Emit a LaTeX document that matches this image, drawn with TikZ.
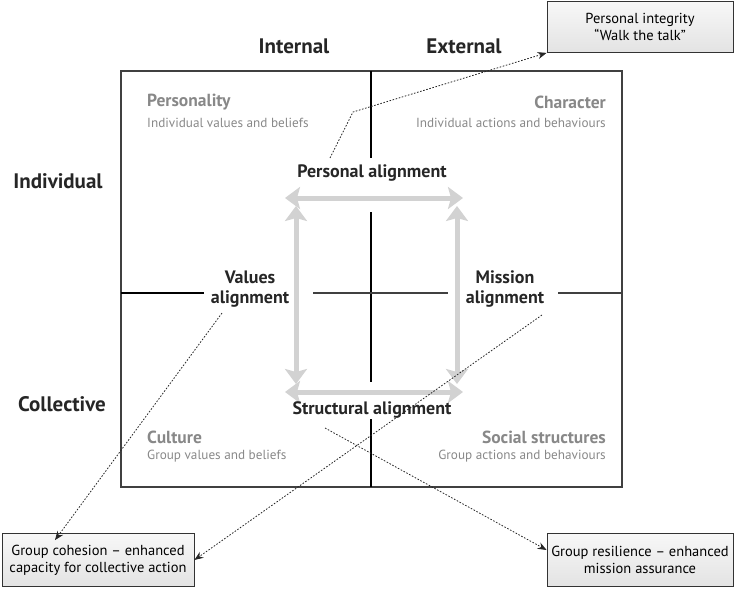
\documentclass[tikz,border=0pt]{standalone}
\usepackage{fontspec}
\setmainfont{PT Sans}
\usetikzlibrary{arrows.meta}
\definecolor{sub}{HTML}{888888}
\definecolor{garrow}{HTML}{D2D2D2}
\begin{document}
\begin{tikzpicture}[x=1pt,y=-1pt,
  head/.style={font=\bfseries\fontsize{21}{24}\selectfont, text=black!85},
  alab/.style={font=\bfseries\fontsize{18}{20}\selectfont, text=black!85, align=center, inner sep=1pt},
  qtitle/.style={font=\bfseries\fontsize{17.5}{19}\selectfont, text=sub, inner sep=0pt},
  qsub/.style={font=\fontsize{13.2}{15}\selectfont, text=sub, inner sep=0pt},
  outbox/.style={draw=black!80, line width=0.8pt, top color=gray!6, bottom color=gray!22, shading angle=0,
     align=center, inner sep=2pt, font=\fontsize{14.5}{17}\selectfont},
  grayarr/.style={draw=garrow, line width=5pt, {Stealth[length=15pt,width=22pt,inset=3pt]}-{Stealth[length=15pt,width=22pt,inset=3pt]}},
  conn/.style={draw=black!85, line width=0.8pt, dash pattern=on 1.6pt off 1.6pt, -{Stealth[length=9pt,width=7pt]}},
  divline/.style={draw=black, line width=1.1pt}
]
\useasboundingbox (0,0) rectangle (736,589);
% main square
\draw[draw=black!75, line width=1.3pt] (121,71) rectangle (622,487);
% centre lines
\coordinate (vt) at (371,71); \coordinate (vtb) at (371,158);
\coordinate (vm1) at (371,212); \coordinate (vm2) at (371,382);
\coordinate (vb1) at (371,419); \coordinate (vb) at (371,487);
\coordinate (hl) at (121,293); \coordinate (hlb) at (204,293);
\coordinate (hm1) at (313,293); \coordinate (hm2) at (448,293);
\coordinate (hr1) at (558,293); \coordinate (hr) at (622,293);
\draw[divline] (vt) -- (vtb);
\draw[divline] (vm1) -- (vm2);
\draw[divline] (vb1) -- (vb);
\draw[divline] (hl) -- (hlb);
\draw[divline, draw=black!75] (hm1) -- (hm2);
\draw[divline, draw=black!75] (hr1) -- (hr);
% gray arrows
\coordinate (a1) at (285,198); \coordinate (a2) at (463,198);
\coordinate (a3) at (285,392); \coordinate (a4) at (463,392);
\coordinate (a5) at (296,206); \coordinate (a6) at (296,384);
\coordinate (a7) at (457,206); \coordinate (a8) at (457,384);
\draw[grayarr] (a1) -- (a2);
\draw[grayarr] (a3) -- (a4);
\draw[grayarr] (a5) -- (a6);
\draw[grayarr] (a7) -- (a8);
% headings
\node[head] (int) at (294,46) {Internal};
\node[head] (ext) at (464,46) {External};
\node[head] (ind) at (58,181) {Individual};
\node[head] (col) at (62,404) {Collective};
% quadrant labels
\node[qtitle, anchor=west] (pers) at (147,102) {Personality};
\node[qsub, anchor=west] (persS) at (147,123) {Individual values and beliefs};
\node[qtitle, anchor=east] (char) at (606,102) {Character};
\node[qsub, anchor=east] (charS) at (606,123) {Individual actions and behaviours};
\node[qtitle, anchor=west] (cult) at (147,437) {Culture};
\node[qsub, anchor=west] (cultS) at (147,456) {Group values and beliefs};
\node[qtitle, anchor=east] (soc) at (606,437) {Social structures};
\node[qsub, anchor=east] (socS) at (606,456) {Group actions and behaviours};
% alignment labels
\node[alab] (pa) at (372,173) {Personal alignment};
\node[alab] (sa) at (372,410) {Structural alignment};
\node[alab] (va) at (250,289) {Values\\alignment};
\node[alab] (ma) at (505,289) {Mission\\alignment};
% outcome boxes
\node[outbox, minimum width=186pt, minimum height=51pt] (pi) at (640,27) {Personal integrity\\“Walk the talk”};
\node[outbox, minimum width=192pt, minimum height=53pt] (gc) at (98,560) {Group cohesion – enhanced\\capacity for collective action};
\node[outbox, minimum width=186pt, minimum height=53pt] (gr) at (640,560) {Group resilience – enhanced\\mission assurance};
% connectors
\coordinate (c1s) at (330,158); \coordinate (c1b) at (353,112);
\draw[conn] (c1s) -- (c1b) -- (pi.south west);
\coordinate (c2s) at (222,313);
\draw[conn] (c2s) -- ([xshift=-43pt,yshift=-7pt]gc.north);
\coordinate (c3s) at (542,315);
\draw[conn] (c3s) -- (gc.east);
\coordinate (c4s) at (325,428);
\draw[conn] (c4s) -- ([yshift=10pt]gr.west);
\end{tikzpicture}
\end{document}
